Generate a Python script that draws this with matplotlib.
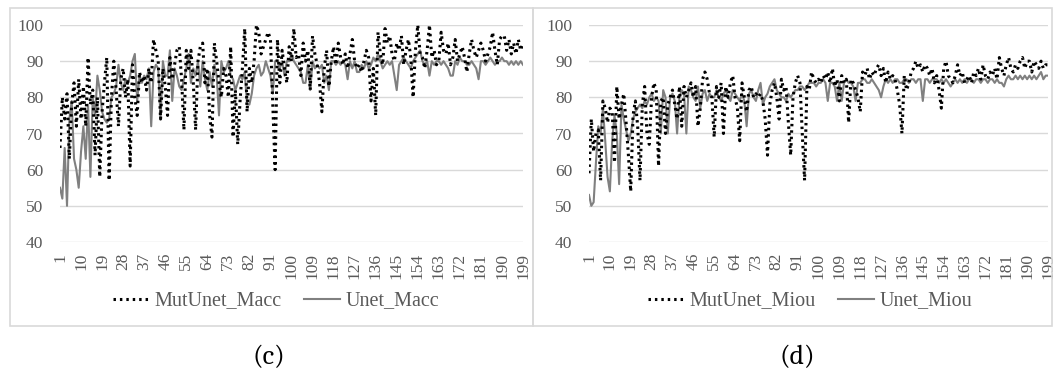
import matplotlib
matplotlib.use('Agg')
import matplotlib.pyplot as plt
from matplotlib.patches import Rectangle

plt.rcParams['font.family'] = ['Liberation Serif', 'DejaVu Serif']

# epochs 1..199
epochs = list(range(1, 200))
xtick_pos = list(range(1, 200, 9))

# (c) mean accuracy
mutunet_macc = [
    66, 80, 74, 81, 63, 78, 84, 72, 85, 74,
    83, 72, 91, 78, 82, 64, 80, 58, 76, 84,
    91, 57, 80, 90, 82, 72, 85, 88, 80, 85,
    61, 89, 80, 75, 87, 84, 86, 82, 88, 84,
    96, 93, 90, 74, 88, 83, 75, 91, 85, 89,
    93, 94, 85, 71, 93, 88, 93, 84, 71, 90,
    94, 95, 84, 88, 75, 69, 95, 90, 84, 80,
    88, 86, 80, 94, 69, 82, 67, 79, 88, 99,
    76, 88, 84, 90, 100, 98, 92, 94, 96, 98,
    96, 78, 60, 96, 84, 93, 88, 84, 94, 90,
    99, 91, 92, 86, 95, 90, 93, 82, 97, 92,
    89, 84, 76, 88, 93, 83, 90, 94, 89, 95,
    91, 89, 92, 88, 92, 96, 90, 88, 89, 87,
    90, 93, 91, 79, 88, 75, 98, 92, 89, 99,
    95, 97, 92, 90, 95, 93, 97, 89, 93, 96,
    91, 80, 93, 100, 92, 91, 88, 93, 100, 91,
    93, 89, 90, 98, 93, 92, 95, 89, 91, 96,
    90, 92, 94, 91, 87, 92, 96, 93, 91, 93,
    95, 93, 90, 92, 94, 98, 93, 89, 96, 97,
    97, 93, 96, 92, 95, 92, 96, 93, 95,
]
unet_macc = [
    55, 52, 66, 50, 74, 79, 63, 60, 55, 65,
    72, 63, 78, 58, 80, 75, 86, 82, 76, 74,
    73, 74, 80, 81, 83, 89, 84, 82, 85, 84,
    86, 90, 92, 79, 86, 84, 86, 85, 88, 72,
    87, 89, 88, 74, 90, 86, 86, 93, 79, 88,
    86, 83, 82, 85, 88, 92, 84, 88, 86, 90,
    83, 90, 85, 82, 87, 83, 89, 86, 75, 90,
    87, 88, 90, 86, 85, 82, 84, 86, 85, 87,
    78, 78, 81, 86, 88, 89, 86, 87, 90, 88,
    86, 81, 90, 90, 88, 90, 86, 90, 90, 92,
    90, 89, 88, 87, 84, 84, 89, 82, 90, 88,
    89, 88, 89, 84, 86, 82, 90, 90, 89, 90,
    89, 90, 89, 85, 90, 88, 90, 87, 87, 89,
    88, 90, 88, 89, 91, 90, 92, 90, 88, 89,
    90, 89, 90, 86, 82, 89, 90, 91, 90, 89,
    88, 90, 91, 92, 93, 90, 89, 90, 86, 90,
    89, 90, 90, 89, 90, 89, 88, 86, 86, 90,
    89, 91, 90, 90, 89, 89, 90, 89, 88, 85,
    90, 90, 89, 90, 91, 90, 89, 90, 90, 91,
    90, 90, 89, 90, 89, 90, 89, 90, 89,
]

# (d) mean IoU
mutunet_miou = [
    59, 74, 65, 70, 71, 57, 79, 77, 73, 77,
    76, 62, 83, 74, 78, 81, 73, 64, 54, 75,
    79, 72, 57, 78, 83, 70, 67, 80, 84, 82,
    61, 79, 80, 70, 78, 80, 82, 78, 74, 83,
    72, 83, 80, 82, 84, 80, 83, 72, 77, 85,
    87, 85, 81, 80, 69, 83, 80, 84, 70, 83,
    80, 84, 86, 80, 77, 68, 84, 80, 76, 82,
    83, 80, 81, 80, 81, 79, 74, 64, 78, 82,
    84, 80, 74, 85, 82, 83, 73, 64, 80, 84,
    86, 84, 70, 57, 83, 82, 87, 85, 84, 85,
    84, 86, 85, 87, 84, 88, 83, 85, 79, 86,
    84, 85, 73, 85, 84, 82, 80, 76, 87, 86,
    88, 85, 87, 86, 88, 89, 86, 88, 84, 87,
    85, 86, 85, 82, 78, 70, 86, 82, 84, 87,
    88, 90, 88, 89, 87, 89, 88, 86, 88, 84,
    86, 82, 77, 88, 90, 86, 85, 84, 86, 89,
    86, 87, 84, 85, 86, 84, 87, 86, 88, 85,
    89, 86, 85, 87, 86, 88, 85, 91, 88, 86,
    89, 91, 88, 87, 89, 88, 90, 91, 88, 90,
    90, 87, 90, 89, 88, 90, 88, 89, 89,
]
unet_miou = [
    53, 50, 51, 62, 72, 70, 77, 68, 58, 54,
    68, 75, 70, 56, 78, 74, 71, 68, 70, 74,
    76, 77, 78, 77, 79, 78, 80, 81, 79, 80,
    79, 70, 82, 80, 70, 80, 81, 79, 70, 80,
    82, 81, 70, 83, 82, 80, 79, 83, 77, 81,
    82, 79, 81, 80, 80, 82, 80, 79, 81, 82,
    80, 79, 82, 81, 80, 79, 81, 79, 72, 81,
    82, 80, 79, 82, 84, 78, 80, 81, 83, 84,
    85, 82, 81, 80, 80, 79, 81, 80, 81, 82,
    82, 83, 83, 82, 83, 84, 84, 84, 83, 84,
    84, 85, 84, 79, 84, 84, 83, 79, 84, 79,
    84, 85, 84, 84, 83, 79, 84, 84, 85, 85,
    84, 84, 85, 84, 83, 82, 80, 83, 85, 84,
    85, 84, 85, 85, 84, 84, 85, 85, 84, 85,
    85, 84, 85, 85, 79, 85, 85, 84, 85, 85,
    85, 84, 85, 84, 85, 84, 83, 84, 85, 84,
    85, 84, 85, 84, 85, 85, 84, 85, 85, 84,
    85, 85, 84, 85, 85, 84, 85, 84, 84, 83,
    85, 86, 85, 85, 86, 85, 86, 85, 86, 85,
    86, 85, 86, 85, 86, 87, 85, 86, 86,
]

panels = [
    (mutunet_macc, unet_macc, 'MutUnet_Macc', 'Unet_Macc', '(c)'),
    (mutunet_miou, unet_miou, 'MutUnet_Miou', 'Unet_Miou', '(d)'),
]

W, H = 1056, 374
fig = plt.figure(figsize=(W / 100, H / 100), dpi=100)
fig.patch.set_facecolor('white')

tick_color = '#595959'
grid_color = '#d9d9d9'

# pixel layout: box left, box right, plot left, plot right, legend centre x, caption x
layout = [(10, 533, 60, 523, 276, 269), (533, 1052, 589, 1048, 810, 797)]

for (mut, une, lab1, lab2, cap), (bx0, bx1, px0, px1, legx, capx) in zip(panels, layout):
    # panel frame
    fig.patches.append(Rectangle((bx0 / W, 1 - 326 / H), (bx1 - bx0) / W, (326 - 8) / H,
                                 transform=fig.transFigure, fill=False,
                                 edgecolor=grid_color, linewidth=1.2))
    ax = fig.add_axes([px0 / W, 1 - 242 / H, (px1 - px0) / W, (242 - 25) / H])
    ax.plot(epochs, une, color='#808080', linewidth=1.5, label=lab2, zorder=3)
    ax.plot(epochs, mut, color='black', linewidth=2.2, linestyle=(0, (0.8, 1.3)),
            dash_capstyle='butt', label=lab1, zorder=4)
    ax.set_xlim(1, 199)
    ax.set_ylim(40, 100)
    ax.set_yticks(range(40, 101, 10))
    ax.set_xticks(xtick_pos)
    ax.set_xticklabels([str(v) for v in xtick_pos], rotation=90)
    ax.grid(axis='y', color=grid_color, linewidth=1.0)
    ax.set_axisbelow(True)
    for s in ax.spines.values():
        s.set_visible(False)
    ax.tick_params(length=0, labelcolor=tick_color, labelsize=12.5, pad=8)
    ax.tick_params(axis='y', pad=12)

    handles, labels = ax.get_legend_handles_labels()
    leg = fig.legend(handles[::-1], labels[::-1], loc='center', ncol=2,
                     bbox_to_anchor=(legx / W, 1 - 301 / H),
                     frameon=False, prop={'size': 14.5}, handlelength=1.8,
                     handletextpad=0.25, columnspacing=1.1)
    for t in leg.get_texts():
        t.set_color(tick_color)

    fig.text(capx / W, 1 - 357 / H, cap, ha='center', va='center',
             fontsize=20, family=['Caladea', 'Noto Sans'], color='black')

fig.savefig('out.png', dpi=100, facecolor='white')
